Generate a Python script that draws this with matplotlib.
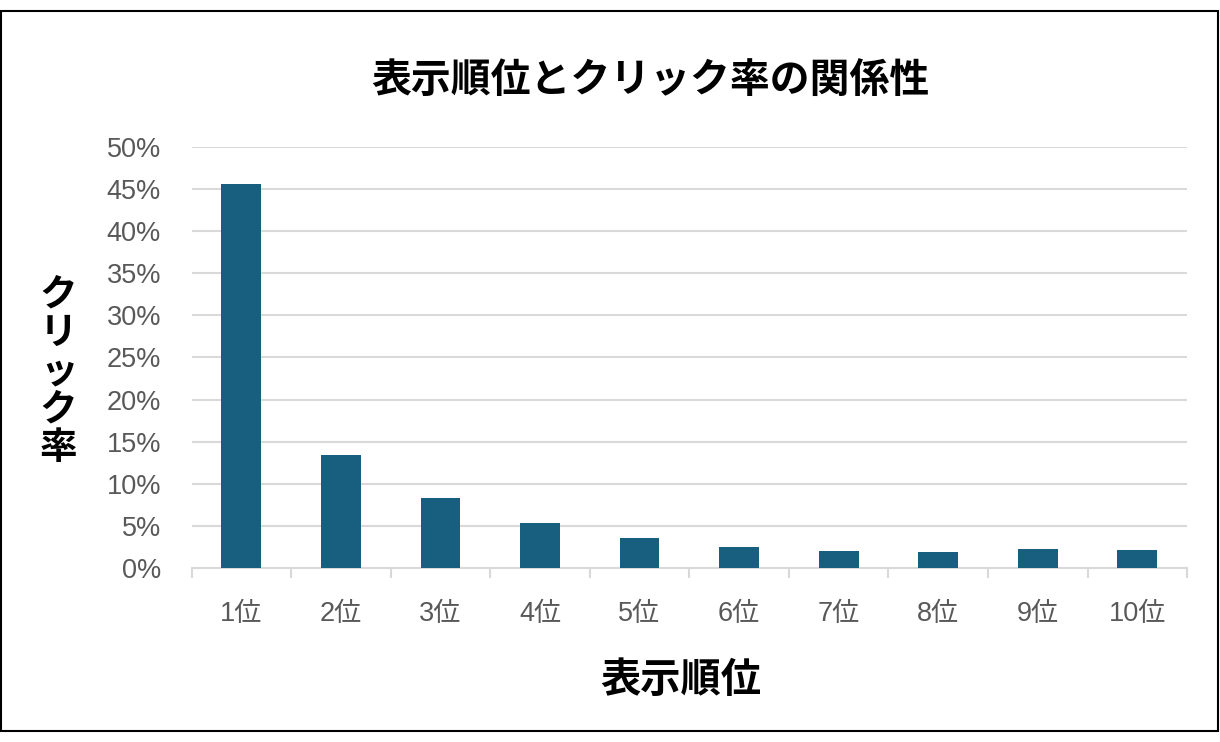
import matplotlib.pyplot as plt
from matplotlib.ticker import PercentFormatter, FixedLocator
from matplotlib.patches import Rectangle

plt.rcParams['font.family'] = ['Liberation Sans', 'Noto Sans CJK JP', 'DejaVu Sans']

ranks = ["1位", "2位", "3位", "4位", "5位", "6位", "7位", "8位", "9位", "10位"]
ctr = [45.6, 13.4, 8.3, 5.3, 3.6, 2.5, 2.0, 1.9, 2.3, 2.1]

bar_color = "#175E7F"
grid_color = "#D9D9D9"
text_gray = "#595959"

fig = plt.figure(figsize=(12.2, 7.42), dpi=100)
ax = fig.add_axes([0.157, 0.2345, 0.816, 0.5675])

x = list(range(len(ranks)))
ax.bar(x, [v / 100 for v in ctr], width=0.4, color=bar_color, zorder=3)

ax.set_xlim(-0.5, len(ranks) - 0.5)
ax.set_ylim(0, 0.5)
ax.set_yticks([i * 0.05 for i in range(11)])
ax.yaxis.set_major_formatter(PercentFormatter(1.0, decimals=0))
ax.grid(axis="y", color=grid_color, linewidth=1.5, zorder=0)

ax.set_xticks(x)
ax.set_xticklabels(ranks)
ax.xaxis.set_minor_locator(FixedLocator([i - 0.5 for i in range(len(ranks) + 1)]))
ax.tick_params(axis="x", which="major", length=0, pad=24, labelsize=19.5, labelcolor=text_gray)
ax.tick_params(axis="x", which="minor", length=7, width=1.5, color=grid_color, direction="out")
ax.tick_params(axis="y", length=0, pad=22, labelsize=19.5, labelcolor=text_gray)

for side in ["top", "right", "left"]:
    ax.spines[side].set_visible(False)
ax.spines["bottom"].set_color(grid_color)
ax.spines["bottom"].set_linewidth(1.5)

jp = ['Noto Sans CJK JP', 'DejaVu Sans']
fig.text(0.533, 0.892, "表示順位とクリック率の関係性", ha="center", va="center",
         fontsize=28.7, fontweight="bold", family=jp)
fig.text(0.558, 0.083, "表示順位", ha="center", va="center",
         fontsize=29, fontweight="bold", family=jp)
fig.text(0.048, 0.5, "\n".join("クリック率"), ha="center", va="center",
         fontsize=27, fontweight="bold", linespacing=0.98, family=jp)

fig.patches.append(Rectangle((0.001, 0.015), 0.997, 0.97, transform=fig.transFigure,
                             fill=False, edgecolor="black", linewidth=1.5))

fig.savefig("out.png", dpi=100)
